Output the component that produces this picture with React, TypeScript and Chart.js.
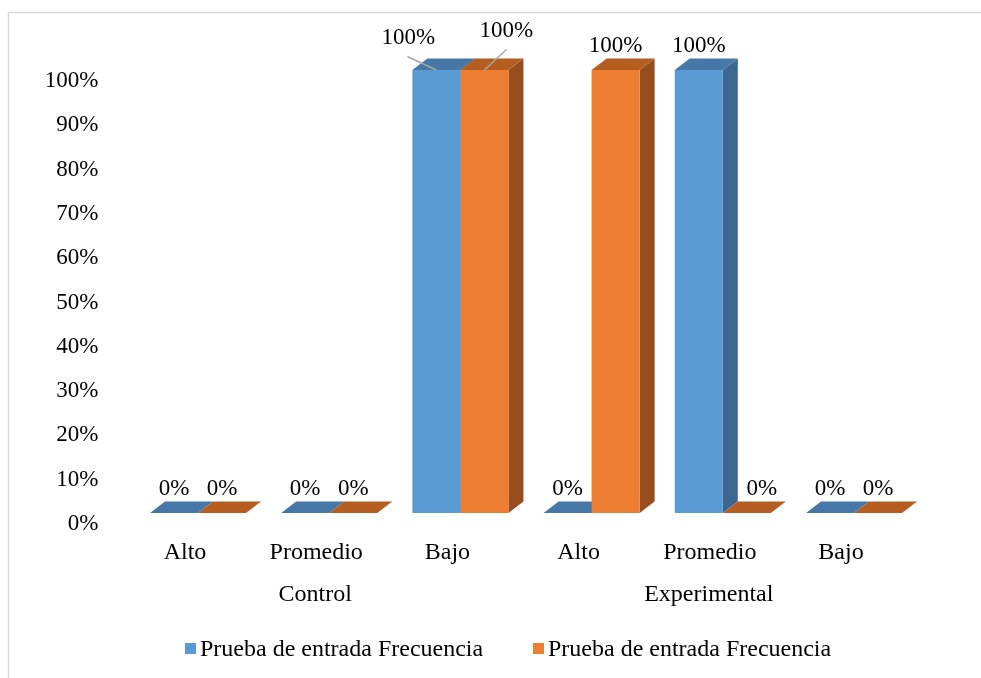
import React, { useEffect, useRef } from "react";
import { Chart, registerables } from "chart.js";

Chart.register(...registerables);

// Niveles por grupo
const CATEGORIES = ["Alto", "Promedio", "Bajo", "Alto", "Promedio", "Bajo"];
const GROUPS = ["Control", "Experimental"];
const SERIES_NAMES = ["Prueba de entrada Frecuencia", "Prueba de entrada Frecuencia"];
// Porcentajes por nivel
const SERIES_BLUE = [0, 0, 100, 0, 100, 0];
const SERIES_ORANGE = [0, 0, 100, 100, 0, 0];
const Y_TICKS = [0, 10, 20, 30, 40, 50, 60, 70, 80, 90, 100];

const FONT = "'Liberation Serif', 'Times New Roman', serif";
const FRONT = ["#5B9BD5", "#ED7D31"];
const TOP = ["#4677A6", "#B65E22"];
const SIDE = ["#3B6790", "#994C1C"];
const DEPTH_X = 15;
const DEPTH_Y = 11.5;

// Etiquetas desplazadas con línea guía: [serie, categoría, dx, dy]
const CALLOUTS: [number, number, number, number][] = [
  [0, 2, -28, -8],
  [1, 2, 22, -15],
];

// Fija el tamaño de cada eje y anula el relleno automático de Chart.js
const fixBox = (w: number | null, h: number | null) => (s: any) => {
  if (w !== null) s.width = w;
  if (h !== null) s.height = h;
  s.paddingTop = 0;
  s.paddingBottom = 0;
  s.paddingLeft = 0;
  s.paddingRight = 0;
};

const depthPlugin = {
  id: "depth3d",
  beforeDraw(chart: any) {
    const ctx = chart.ctx;
    ctx.save();
    ctx.strokeStyle = "#D9D9D9";
    ctx.lineWidth = 1.5;
    ctx.strokeRect(8.5, 12.5, 2000, 2000);
    ctx.restore();
  },
  beforeDatasetsDraw(chart: any) {
    const ctx = chart.ctx;
    const yScale = chart.scales.y;
    ctx.save();
    chart.data.datasets.forEach((ds: any, i: number) => {
      const meta = chart.getDatasetMeta(i);
      meta.data.forEach((el: any, j: number) => {
        const left = el.x - el.width / 2;
        const right = el.x + el.width / 2;
        const top = yScale.getPixelForValue(ds.data[j]);
        const base = yScale.getPixelForValue(0);
        if (top < base - 0.5) {
          ctx.fillStyle = SIDE[i];
          ctx.beginPath();
          ctx.moveTo(right, top);
          ctx.lineTo(right + DEPTH_X, top - DEPTH_Y);
          ctx.lineTo(right + DEPTH_X, base - DEPTH_Y);
          ctx.lineTo(right, base);
          ctx.closePath();
          ctx.fill();
        }
        ctx.fillStyle = TOP[i];
        ctx.beginPath();
        ctx.moveTo(left, top);
        ctx.lineTo(right, top);
        ctx.lineTo(right + DEPTH_X, top - DEPTH_Y);
        ctx.lineTo(left + DEPTH_X, top - DEPTH_Y);
        ctx.closePath();
        ctx.fill();
      });
    });
    ctx.restore();
  },
  afterDatasetsDraw(chart: any) {
    const ctx = chart.ctx;
    const yScale = chart.scales.y;
    ctx.save();
    ctx.font = `23px ${FONT}`;
    ctx.fillStyle = "#000";
    ctx.textAlign = "center";
    ctx.textBaseline = "middle";
    const datasets = chart.data.datasets;
    datasets.forEach((ds: any, i: number) => {
      const meta = chart.getDatasetMeta(i);
      meta.data.forEach((el: any, j: number) => {
        const v = ds.data[j];
        const top = yScale.getPixelForValue(v);
        let lx = el.x;
        let ly = top - 24;
        // si la barra anterior del mismo nivel es más alta, su cara lateral tapa la etiqueta
        if (i > 0 && datasets[i - 1].data[j] > v) lx += DEPTH_X;
        const call = CALLOUTS.find((c) => c[0] === i && c[1] === j);
        if (call) {
          lx += call[2];
          ly += call[3];
          ctx.strokeStyle = "#A6A6A6";
          ctx.lineWidth = 1.5;
          ctx.beginPath();
          ctx.moveTo(el.x, top);
          ctx.lineTo(lx + (call[2] < 0 ? -1 : 0), ly + 18.5);
          ctx.stroke();
        }
        ctx.fillText(`${v}%`, lx, ly);
      });
    });
    ctx.restore();
  },
};

export default function App() {
  const canvasRef = useRef<HTMLCanvasElement | null>(null);

  useEffect(() => {
    document.body.style.margin = "0";
    const canvas = canvasRef.current;
    if (!canvas) return;
    const chart = new Chart(canvas, {
      type: "bar",
      data: {
        labels: CATEGORIES,
        datasets: [
          { label: SERIES_NAMES[0], data: SERIES_BLUE, backgroundColor: FRONT[0], borderWidth: 0 },
          { label: SERIES_NAMES[1], data: SERIES_ORANGE, backgroundColor: FRONT[1], borderWidth: 0 },
        ],
      },
      options: {
        responsive: false,
        animation: false,
        events: [],
        layout: { padding: { top: 20, left: 32.4, right: 61.4, bottom: 63.6 } },
        datasets: { bar: { categoryPercentage: 0.732, barPercentage: 1 } },
        plugins: { legend: { display: false }, tooltip: { enabled: false } },
        scales: {
          x: {
            type: "category",
            offset: true,
            grid: { display: false },
            border: { display: false },
            afterFit: fixBox(null, 40),
            ticks: {
              padding: 0,
              labelOffset: -13,
              maxRotation: 0,
              autoSkip: false,
              color: "#000",
              font: { family: FONT, size: 24 },
            },
          },
          x2: {
            type: "category",
            labels: GROUPS,
            position: "bottom",
            offset: true,
            weight: 1,
            grid: { display: false },
            border: { display: false },
            afterFit: fixBox(null, 44.4),
            ticks: {
              padding: 2.6,
              labelOffset: -14,
              maxRotation: 0,
              autoSkip: false,
              color: "#000",
              font: { family: FONT, size: 24 },
            },
          },
          y: { display: false, min: -3.837, max: 111.287 },
          yl: {
            position: "left",
            min: -1.354,
            max: 113.77,
            grid: { display: false, drawTicks: false },
            border: { display: false },
            afterFit: fixBox(100, null),
            afterBuildTicks: (s: any) => {
              s.ticks = Y_TICKS.map((v) => ({ value: v }));
            },
            ticks: {
              padding: 34,
              color: "#000",
              font: { family: FONT, size: 23 },
              callback: (v: any) => `${v}%`,
            },
          },
        },
      },
      plugins: [depthPlugin],
    });
    return () => chart.destroy();
  }, []);

  const legendItem = (color: string, text: string, left: number) => (
    <div
      style={{
        position: "absolute",
        left,
        top: 633,
        display: "flex",
        alignItems: "center",
        fontFamily: FONT,
        fontSize: 24,
        color: "#000",
        whiteSpace: "nowrap",
        lineHeight: "30px",
      }}
    >
      <span style={{ display: "inline-block", width: 11, height: 11, background: color, marginRight: 4 }} />
      <span>{text}</span>
    </div>
  );

  return (
    <div style={{ position: "relative", width: 981, height: 678, background: "#fff" }}>
      <canvas ref={canvasRef} width={981} height={678} style={{ display: "block" }} />
      {legendItem(FRONT[0], SERIES_NAMES[0], 185)}
      {legendItem(FRONT[1], SERIES_NAMES[1], 533)}
    </div>
  );
}
